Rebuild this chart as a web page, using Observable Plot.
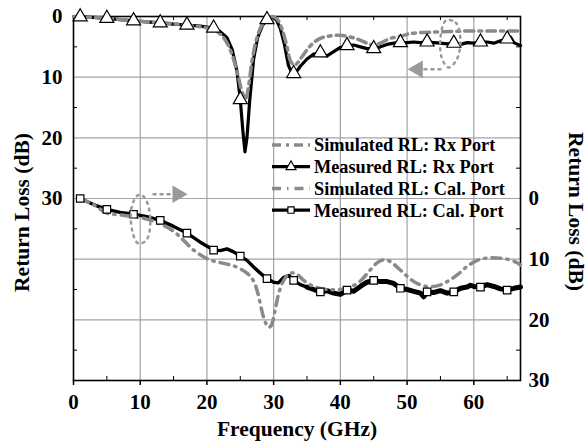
<!DOCTYPE html>
<html><head><meta charset="utf-8">
<script src="https://cdn.jsdelivr.net/npm/d3@7"></script>
<script src="https://cdn.jsdelivr.net/npm/@observablehq/plot@0.6"></script>
<style>
body{margin:0;background:#fff;}
#wrap{position:relative;width:587px;height:447px;font-family:'Liberation Serif';}
#wrap svg{display:block;}
#legend{position:absolute;left:0;top:0;overflow:visible;}
</style></head><body><div id="wrap"></div>
<script>
// ---------- data (Return loss in dB) ----------
// Rx port (read on left axis)
const measRxFreq = [0,1,3,5,7,9,11,13,15,17,19,21,22,23,23.8,24.5,25,25.4,25.7,26.0,26.4,27,27.6,28.3,29,29.7,30.4,31,31.6,32.2,32.8,33,33.4,34,35,36,37,38,39,40,41,42,43,44,45,46,47,48,49,50,51,52,53,54,55,56,57,58,59,60,61,62,63,64,65,65.5,66,67];
const measRxVal  = [0,0.05,0.15,0.3,0.5,0.7,0.9,1.05,1.25,1.4,1.6,1.9,2.5,3.5,5.5,9,13.7,19,22.3,20,14,7,3.5,1.5,0.5,0.1,0.5,2,4.5,8,9.5,9.4,9.1,8.2,7.0,6.2,6.0,6.5,5.8,5.1,4.8,4.7,5.0,5.3,5.3,5.0,4.6,4.4,4.3,4.3,4.2,4.3,4.2,4.3,4.4,4.5,4.4,4.6,4.3,4.4,4.2,4.2,4.4,4.0,3.7,3.4,4.3,4.8];
const simRxFreq = [0,5,10,15,20,21.5,22.5,23.5,24.5,25.3,25.8,26.3,26.8,27.5,28.3,29.2,29.8,30.5,31.3,32,32.6,33.2,34,35,36,37,38,40,42.5,44,45,46,47.5,49,50.5,53.5,58.5,63,67];
const simRxVal  = [0,0.3,0.8,1.2,1.9,2.5,3.5,5.5,9,12.5,13.5,11,7,3.5,1.3,0.2,0,0.4,2.2,5,7.5,8,7,5.5,4.3,3.6,3.3,3.1,3.7,4.4,4.7,4.4,3.6,3.3,2.8,2.6,2.4,2.4,2.4];
// Cal. port (read on right axis)
const measCalFreq = [1,3,5,7,9,11,13,15,17,19,21,22,23,24,25,26,27,28,29,30,30.7,31.5,32.3,33,34,35,36,37,38,39,40,41,42,43,44,45,46,47,48,49,50,51,52,52.5,53,54,55,56,57,58,59,59.5,60,61,62,63,64,65,66,67];
const measCalVal  = [0,1.0,1.8,2.3,2.6,3.0,3.6,4.6,5.7,7.2,8.5,8.6,8.3,8.8,9.5,10.2,11.3,12.3,13.2,13.8,13.9,13.0,12.7,13.5,14.2,14.6,15.0,15.4,15.2,15.6,15.8,15.1,15.3,14.5,13.8,13.5,13.7,13.7,14.0,14.8,15.0,15.3,15.6,16.2,15.4,15.5,15.2,15.6,15.4,14.8,14.6,14.3,14.5,14.6,14.2,14.5,14.9,15.1,14.8,14.6];
const simCalFreq = [1,3,5,7,9,11,13,15,16.5,18,20,21,22.5,24,26,27,27.6,28.5,29.2,29.6,30.2,30.8,31.5,32.5,33.5,34.5,36,38,40,41.5,43,44.3,45.5,46.5,47.5,48.5,49.5,50.5,51.5,53,54.5,56,57.5,59,60.5,62,63.5,65,66.5,67];
const simCalVal  = [0,1.0,2.4,2.7,3.0,3.4,4.2,5.4,6.9,8.5,9.9,10.3,10.7,11.1,12.3,13.6,15.5,19.6,21.2,21.0,18.5,15.5,13.5,12.3,12.5,13.5,14.5,15.0,15.0,14.6,13.6,12.0,10.6,10.1,10.4,11.3,12.3,13.3,14.0,14.5,14.4,13.7,12.6,11.2,10.2,9.8,9.8,10.0,10.6,11.0];
const markerFreqs = [1,5,9,13,17,21,25,29,33,37,41,45,49,53,57,61,65];
const noisyFrom = 35;              // measured trace becomes visibly noisy (thicker) above this frequency
const calOffset = 30;              // right axis = left axis - 30

// axis ticks
const xTicks = [0,10,20,30,40,50,60];
const xMinor = [5,15,25,35,45,55,65];
const gridXVals = [10,20,30,40,50,60];
const gridYVals = [10,20,30,40,50];
const leftTicks = [0,10,20,30];
const rightTicks = [0,10,20,30];
const yMinor = [5,15,25,35,45,55];

// annotation loops (left-axis units) marking which axis each pair belongs to
const loopCalX = [9.6,8.7,8.8,9.7,10.9,11.5,11.1,10.3];
const loopCalY = [29.5,31.5,35.3,37.4,36.9,34.4,30.8,29.5];
const arrowCalX = [12.0,15.6];
const arrowCalY = [29.3,29.3];
const loopRxX = [55.8,57.3,58.0,57.4,56.2,55.2,55.0];
const loopRxY = [0.7,1.0,4.0,7.2,8.4,6.8,3.6];
const arrowRxX = [55.0,51.6];
const arrowRxY = [8.7,8.7];

const legendLabels = ["Simulated RL: Rx Port","Measured RL: Rx Port","Simulated RL: Cal. Port","Measured RL: Cal. Port"];
const xLabel = ["Frequency (GHz)"];
const yLabel = ["Return Loss (dB)"];

// ---------- build ----------
const zip = (xs, ys) => xs.map((f, i) => ({f, v: ys[i]}));
const measRx = zip(measRxFreq, measRxVal);
const simRx = zip(simRxFreq, simRxVal);
const measCal = zip(measCalFreq, measCalVal);
const simCal = zip(simCalFreq, simCalVal);
const loopCal = zip(loopCalX, loopCalY), arrowCal = zip(arrowCalX, arrowCalY);
const loopRx = zip(loopRxX, loopRxY), arrowRx = zip(arrowRxX, arrowRxY);

const W = 587, H = 447, mL = 73, mR = 67, mT = 16, mB = 67;
const pw = W - mL - mR, ph = H - mT - mB;
const FONT = "Liberation Serif";
const simGray = "#8a8a8a";
const annGray = "#9a9a9a";

const chart = Plot.plot({
  width: W, height: H,
  marginLeft: mL, marginRight: mR, marginTop: mT, marginBottom: mB,
  x: {domain: [0, 67]},
  y: {domain: [0, 60], reverse: true},
  style: {fontFamily: FONT, fontWeight: "bold", fontSize: "21px", color: "#000", background: "#fff"},
  marks: [
    Plot.gridX(gridXVals, {stroke: "#a3a3a3", strokeOpacity: 1, strokeWidth: 1.2}),
    Plot.gridY(gridYVals, {stroke: "#a3a3a3", strokeOpacity: 1, strokeWidth: 1.2}),
    Plot.tickX(xMinor, {x: d => d, insetTop: ph - 4, stroke: "#000", strokeWidth: 1}),
    Plot.tickX(xMinor, {x: d => d, insetBottom: ph - 4, stroke: "#000", strokeWidth: 1}),
    Plot.tickY(yMinor, {y: d => d, insetRight: pw - 4, stroke: "#000", strokeWidth: 1}),
    Plot.tickY(yMinor, {y: d => d, insetLeft: pw - 4, stroke: "#000", strokeWidth: 1}),
    Plot.axisX(xTicks, {anchor: "bottom", tickSize: 5, tickPadding: 9, label: null, fontSize: 21, strokeWidth: 1.5}),
    Plot.axisY(leftTicks, {anchor: "left", tickSize: 0, tickPadding: 11, label: null, fontSize: 21}),
    Plot.axisY(rightTicks.map(d => d + calOffset), {anchor: "right", tickSize: 0, tickPadding: 8, label: null, fontSize: 21, tickFormat: d => String(d - calOffset)}),
    Plot.frame({stroke: "#000", strokeWidth: 1.6}),
    // measured curves
    Plot.line(measRx, {x: "f", y: "v", stroke: "#000", strokeWidth: 3.2}),
    Plot.line(measCal, {x: "f", y: d => d.v + calOffset, stroke: "#000", strokeWidth: 3.4}),
    Plot.line(measCal.filter(d => d.f >= noisyFrom), {x: "f", y: d => d.v + calOffset, stroke: "#000", strokeWidth: 5}),
    // simulated curves
    Plot.line(simRx, {x: "f", y: "v", stroke: simGray, strokeWidth: 3.5, strokeDasharray: "9,5,3,5", curve: "catmull-rom"}),
    Plot.line(simCal, {x: "f", y: d => d.v + calOffset, stroke: simGray, strokeWidth: 3.5, strokeDasharray: "9,6,1.5,6", curve: "catmull-rom"}),
    // markers
    Plot.dot(measRx.filter(d => markerFreqs.includes(d.f)), {x: "f", y: "v", symbol: "triangle", r: 5.2, fill: "#fff", stroke: "#000", strokeWidth: 1.2}),
    Plot.dot(measCal.filter(d => markerFreqs.includes(d.f)), {x: "f", y: d => d.v + calOffset, symbol: "square", r: 4.2, fill: "#fff", stroke: "#000", strokeWidth: 1.2}),
    // annotations
    Plot.line(loopCal, {x: "f", y: "v", curve: "catmull-rom-closed", stroke: annGray, strokeWidth: 2.5, strokeDasharray: "2,5"}),
    Plot.line(arrowCal, {x: "f", y: "v", stroke: annGray, strokeWidth: 2.5, strokeDasharray: "2,5"}),
    Plot.dot(arrowCal.slice(-1), {x: "f", y: "v", symbol: "triangle", rotate: 90, r: 6.5, fill: annGray, stroke: "none"}),
    Plot.line(loopRx, {x: "f", y: "v", curve: "catmull-rom-closed", stroke: annGray, strokeWidth: 2.5, strokeDasharray: "2,5"}),
    Plot.line(arrowRx, {x: "f", y: "v", stroke: annGray, strokeWidth: 2.5, strokeDasharray: "2,5"}),
    Plot.dot(arrowRx.slice(-1), {x: "f", y: "v", symbol: "triangle", rotate: -90, r: 6.5, fill: annGray, stroke: "none"}),
    // axis titles
    Plot.text(xLabel, {text: d => d, frameAnchor: "bottom", textAnchor: "middle", dy: 55, fontSize: 21.5, fontWeight: "bold"}),
    Plot.text(yLabel, {text: d => d, frameAnchor: "left", textAnchor: "middle", rotate: -90, dx: -51, dy: 14, fontSize: 21.5, fontWeight: "bold"}),
    Plot.text(yLabel, {text: d => d, frameAnchor: "right", textAnchor: "middle", rotate: 90, dx: 55, dy: 13, fontSize: 21.5, fontWeight: "bold"})
  ]
});
const wrap = document.getElementById("wrap");
wrap.appendChild(chart);

// ---------- legend (inside plot, top of the lower half) ----------
const lg = d3.select(wrap).append("svg").attr("id", "legend").attr("width", W).attr("height", H);
const legendStyles = [
  {stroke: simGray, dash: "9,5,3,5", width: 3.5, symbol: null},
  {stroke: "#000", dash: null, width: 3.2, symbol: "triangle"},
  {stroke: simGray, dash: "9,6,1.5,6", width: 3.5, symbol: null},
  {stroke: "#000", dash: null, width: 3.2, symbol: "square"}
];
const lx0 = 272, lx1 = 310, ly0 = 145, lstep = 21.7;
legendLabels.forEach((lab, i) => {
  const y = ly0 + i * lstep, s = legendStyles[i];
  const g = lg.append("g");
  g.append("line").attr("x1", lx0).attr("x2", lx1).attr("y1", y).attr("y2", y)
    .attr("stroke", s.stroke).attr("stroke-width", s.width).attr("stroke-dasharray", s.dash);
  const cx = (lx0 + lx1) / 2;
  if (s.symbol) {
    g.append("path").attr("transform", `translate(${cx},${y})`)
      .attr("d", d3.symbol(s.symbol === "triangle" ? d3.symbolTriangle2 : d3.symbolSquare2, s.symbol === "triangle" ? 70 : 50)())
      .attr("fill", "#fff").attr("stroke", "#000").attr("stroke-width", 1.2);
  }
  g.append("text").attr("x", lx1 + 4).attr("y", y).attr("dy", "0.35em")
    .attr("font-size", 18.3).text(lab);
});
d3.select(wrap).selectAll("svg").attr("font-family", FONT).attr("font-weight", "bold");
d3.select(wrap).selectAll("text").attr("font-family", FONT).attr("font-weight", "bold")
  .style("font-family", FONT).style("font-weight", "bold");
</script></body></html>
